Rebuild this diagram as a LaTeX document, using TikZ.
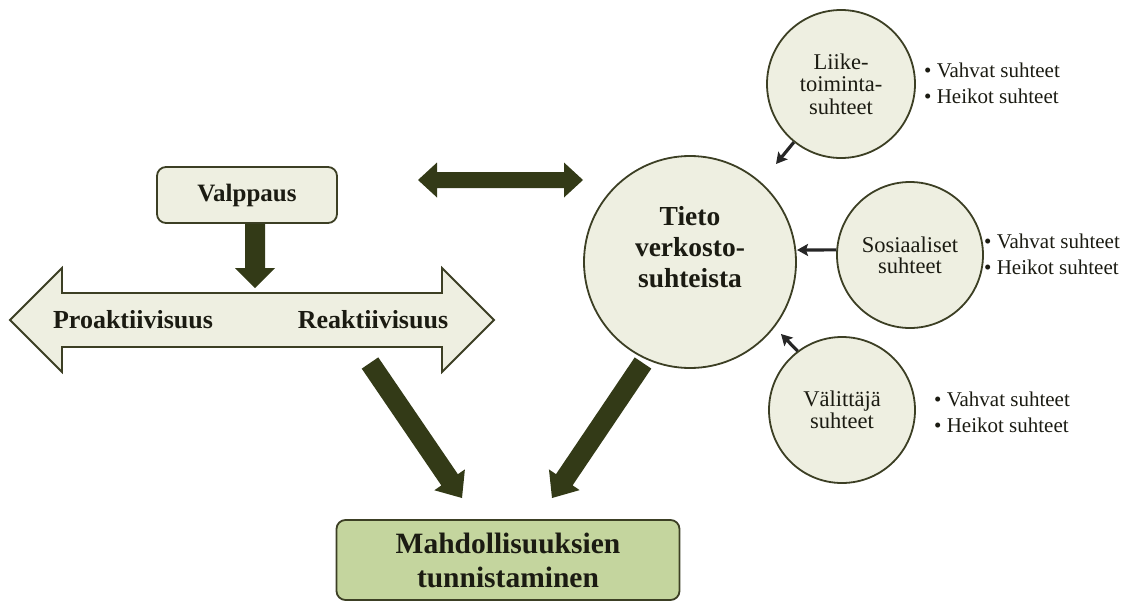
\documentclass[tikz,border=0pt]{standalone}
\usepackage{fontspec}
\setmainfont{Liberation Serif}
\usetikzlibrary{arrows.meta,calc}

\definecolor{paleolive}{HTML}{EEEFE1}
\definecolor{edgeolive}{HTML}{3C3F24}
\definecolor{darkolive}{HTML}{333A17}
\definecolor{sage}{HTML}{C4D59E}
\definecolor{inktext}{HTML}{1B1B12}

\begin{document}
\begin{tikzpicture}[x=1pt,y=-1pt,
  every node/.style={text=inktext},
  box/.style={draw=edgeolive, line width=1.8pt, rounded corners=9pt, inner sep=0pt},
  bubble/.style={circle, draw=edgeolive, line width=1.8pt, fill=paleolive, inner sep=0pt, minimum size=#1},
  % filled block arrow between two points: half shaft width, half head width, head length
  fat/.style n args={3}{fill=darkolive, draw=none, to path={
    ($(\tikztotarget)!#3!(\tikztostart)$) coordinate (fatc)
    ($(\tikztostart)!#1!90:(\tikztotarget)$)
    -- ($(fatc)!#1!90:(\tikztotarget)$)
    -- ($(fatc)!#2!90:(\tikztotarget)$)
    -- (\tikztotarget)
    -- ($(fatc)!#2!-90:(\tikztotarget)$)
    -- ($(fatc)!#1!-90:(\tikztotarget)$)
    -- ($(\tikztostart)!#1!-90:(\tikztotarget)$) -- cycle}},
  feeder/.style={draw=black!85, line width=3.2pt, -{Stealth[length=11pt,width=12pt,inset=2pt]}},
  bullets/.style={anchor=west, align=left, inner sep=0pt,
    font=\fontsize{21}{26}\selectfont}
]
\useasboundingbox (0,0) rectangle (1144,603);

% proactive / reactive double arrow
\draw[draw=edgeolive, line width=1.8pt, fill=paleolive, line join=miter]
  (10,320) -- (62,268) -- (62,293) -- (442,293) -- (442,268) -- (494,320)
  -- (442,372) -- (442,347) -- (62,347) -- (62,372) -- cycle;
\coordinate (barL) at (370,363);
\coordinate (barTop) at (255,288);
\node[font=\fontsize{26}{26}\selectfont\bfseries] (proak) at (133,320) {Proaktiivisuus};
\node[font=\fontsize{26}{26}\selectfont\bfseries] (reak) at (373,320) {Reaktiivisuus};

% alertness
\node[box, fill=paleolive, minimum width=180pt, minimum height=56pt,
  font=\fontsize{25}{25}\selectfont\bfseries] (valp) at (247,195) {Valppaus};
\path[fat={10pt}{20pt}{20pt}] (valp.south -| barTop) to (barTop);

% knowledge of network relations
\node[bubble=212pt] (tieto) at (690,262) {};
\node[align=center, font=\fontsize{27.5}{31}\selectfont\bfseries] (tietotxt) at (690,247)
  {Tieto\\verkosto-\\suhteista};

% two-way link
\coordinate (dmid) at (500,180);
\coordinate (dleft) at (418,180);
\coordinate (dright) at (583,180);
\path[fat={8pt}{17.5pt}{19pt}] (dmid) to (dleft);
\path[fat={8pt}{17.5pt}{19pt}] (dmid) to (dright);

% relation types
\node[bubble=148pt, align=center, font=\fontsize{22.5}{22.5}\selectfont] (liike) at (841,84)
  {Liike-\\toiminta-\\suhteet};
\node[bubble=146pt, align=center, font=\fontsize{22.5}{21}\selectfont] (sos) at (910,255)
  {Sosiaaliset\\suhteet};
\node[bubble=146pt, align=center, font=\fontsize{22.5}{22}\selectfont] (val) at (842,410)
  {Välittäjä\\suhteet};

\node[bullets] (liikelist) at (924,83) {• Vahvat suhteet\\• Heikot suhteet};
\node[bullets] (soslist) at (984,254) {• Vahvat suhteet\\• Heikot suhteet};
\node[bullets] (vallist) at (934,412) {• Vahvat suhteet\\• Heikot suhteet};

\coordinate (inL) at (776,164);
\coordinate (inS) at (797,250);
\coordinate (inV) at (781,334);
\draw[feeder] (liike.231) -- (inL);
\draw[feeder] (sos.176) -- (inS);
\draw[feeder] (val.127) -- (inV);

% outcome
\node[box, fill=sage, minimum width=343pt, minimum height=80pt, align=center,
  font=\fontsize{29.5}{34}\selectfont\bfseries] (mahd) at (508,560)
  {Mahdollisuuksien\\tunnistaminen};

\coordinate (tietoOut) at (643,363);
\coordinate (mahdInL) at (462,498);
\coordinate (mahdInR) at (552,498);
\path[fat={10pt}{18.5pt}{22pt}] (barL) to (mahdInL);
\path[fat={10pt}{18.5pt}{22pt}] (tietoOut) to (mahdInR);
\end{tikzpicture}
\end{document}
